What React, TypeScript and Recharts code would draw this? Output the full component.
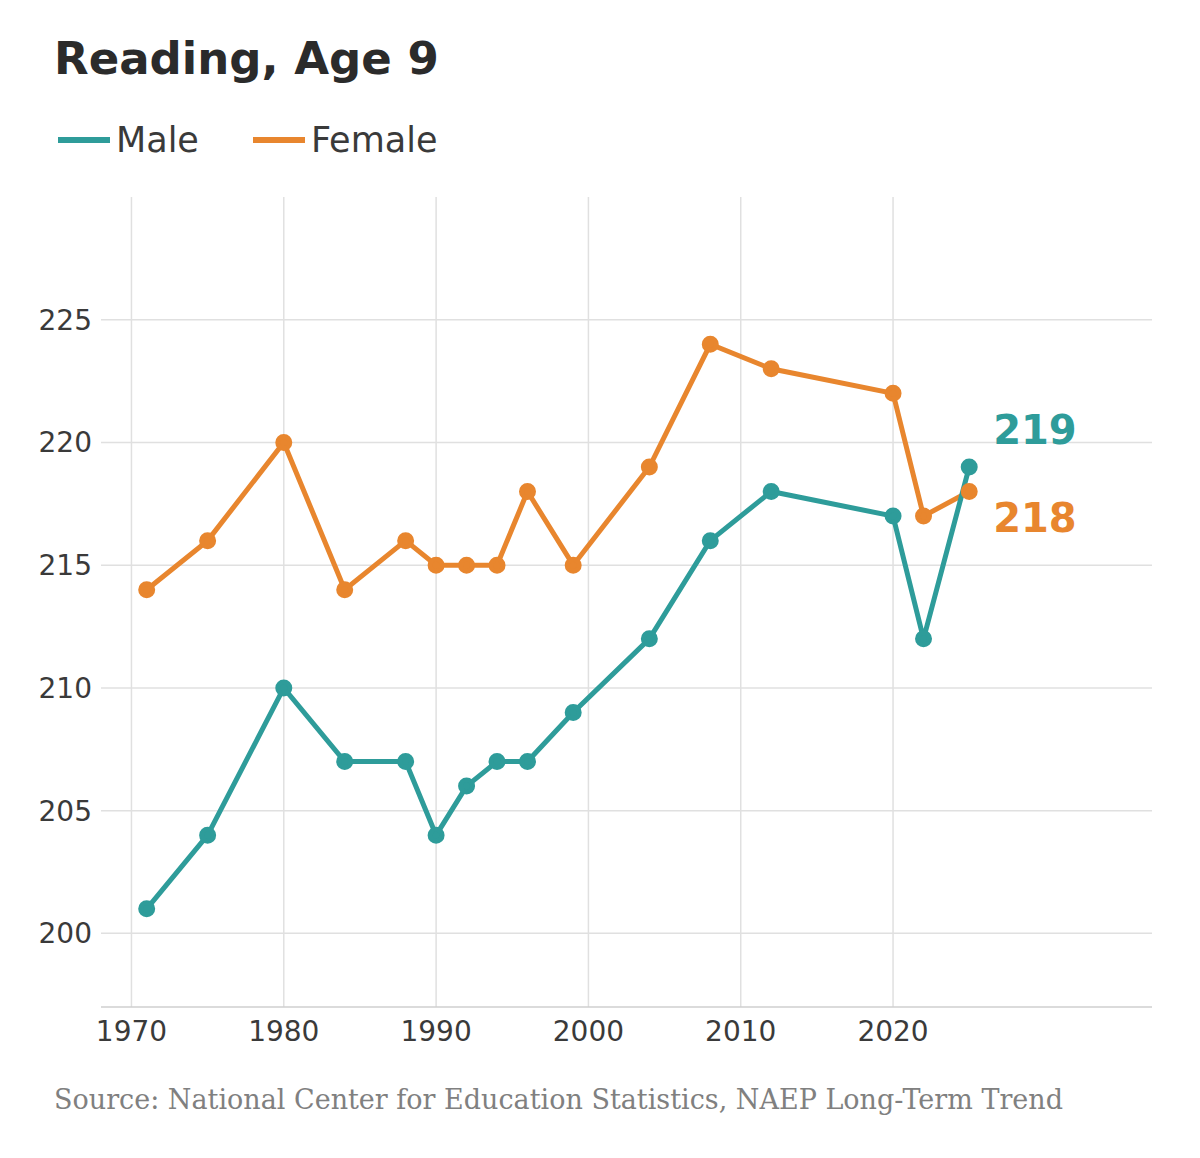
import React from 'react';
import { LineChart, Line, XAxis, YAxis, CartesianGrid } from 'recharts';

const YEARS = [1971, 1975, 1980, 1984, 1988, 1990, 1992, 1994, 1996, 1999, 2004, 2008, 2012, 2020, 2022, 2025];
const MALE = [201, 204, 210, 207, 207, 204, 206, 207, 207, 209, 212, 216, 218, 217, 212, 219];
const FEMALE = [214, 216, 220, 214, 216, 215, 215, 215, 218, 215, 219, 224, 223, 222, 217, 218];
const X_TICKS = [1970, 1980, 1990, 2000, 2010, 2020];
const Y_TICKS = [200, 205, 210, 215, 220, 225];

const TEAL = '#2e9c9a';
const ORANGE = '#e8862e';
const FONT = '"DejaVu Sans", sans-serif';

const data = YEARS.map((year, i) => ({ year, male: MALE[i], female: FEMALE[i] }));

const endLabel = (color: string, dy: number) => (props: any) => {
  const { x, y, index, value } = props;
  if (index !== YEARS.length - 1) return null;
  return (
    <text x={x + 24} y={y + dy} fill={color} fontSize={40} fontWeight="bold" fontFamily={FONT}>
      {value}
    </text>
  );
};

export default function App() {
  return (
    <div style={{ position: 'absolute', left: 0, top: 0, width: 1200, height: 1158, background: '#fff', fontFamily: FONT }}>
      <div style={{ position: 'absolute', left: 54, top: 32, fontSize: 45, fontWeight: 'bold', color: '#2b2b2b' }}>
        Reading, Age 9
      </div>
      <div style={{ position: 'absolute', left: 58, top: 120, display: 'flex', alignItems: 'center', fontSize: 35, color: '#3a3a3a' }}>
        <span style={{ width: 52, height: 6, background: TEAL, display: 'inline-block', marginRight: 6 }} />
        <span style={{ marginRight: 54 }}>Male</span>
        <span style={{ width: 52, height: 6, background: ORANGE, display: 'inline-block', marginRight: 6 }} />
        <span>Female</span>
      </div>
      <div style={{ position: 'absolute', top: 0, left: 0 }}>
        <LineChart width={1200} height={1158} data={data} margin={{ top: 197, right: 48, bottom: 101, left: 0 }}>
          <CartesianGrid stroke="#e0e0e0" strokeWidth={1.5} verticalValues={X_TICKS} horizontalValues={Y_TICKS} />
          <XAxis
            dataKey="year"
            type="number"
            domain={[1968, 2037]}
            ticks={X_TICKS}
            height={50}
            tickLine={false}
            axisLine={{ stroke: '#cfcfcf', strokeWidth: 1.5 }}
            tickMargin={8}
            tick={{ fontSize: 28, fill: '#3a3a3a', fontFamily: FONT }}
          />
          <YAxis
            type="number"
            domain={[197, 230]}
            ticks={Y_TICKS}
            width={101}
            tickLine={false}
            axisLine={false}
            tickSize={0}
            tickMargin={9}
            tick={{ fontSize: 28, fill: '#3a3a3a', fontFamily: FONT }}
          />
          <Line dataKey="female" stroke={ORANGE} strokeWidth={5} dot={{ r: 6, fill: ORANGE, stroke: ORANGE }} isAnimationActive={false} label={endLabel(ORANGE, 40)} />
          <Line dataKey="male" stroke={TEAL} strokeWidth={5} dot={{ r: 6, fill: TEAL, stroke: TEAL }} isAnimationActive={false} label={endLabel(TEAL, -23)} />
        </LineChart>
      </div>
      <div style={{ position: 'absolute', left: 54, top: 1084, fontSize: 27, fontFamily: '"DejaVu Serif", serif', color: '#808080' }}>
        Source: National Center for Education Statistics, NAEP Long-Term Trend
      </div>
    </div>
  );
}
